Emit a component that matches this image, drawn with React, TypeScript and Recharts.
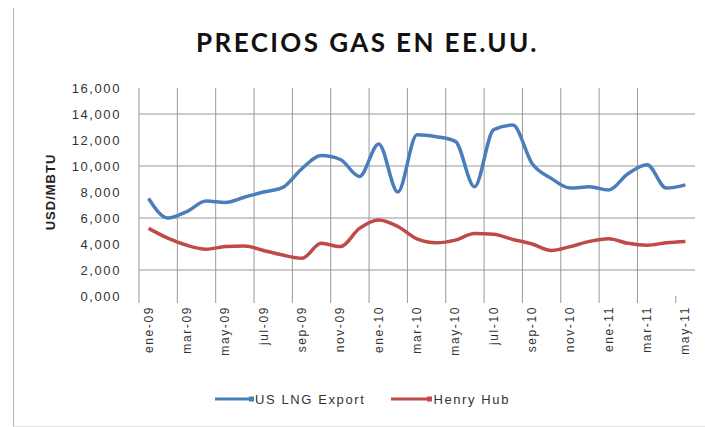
import React from 'react';
import { LineChart, Line, XAxis, YAxis, Legend, ReferenceLine } from 'recharts';

const months = [
  'ene-09', 'feb-09', 'mar-09', 'abr-09', 'may-09', 'jun-09', 'jul-09', 'ago-09', 'sep-09', 'oct-09', 'nov-09', 'dic-09',
  'ene-10', 'feb-10', 'mar-10', 'abr-10', 'may-10', 'jun-10', 'jul-10', 'ago-10', 'sep-10', 'oct-10', 'nov-10', 'dic-10',
  'ene-11', 'feb-11', 'mar-11', 'abr-11', 'may-11',
];
const usLngExport = [
  7.5, 6.0, 6.5, 7.3, 7.2, 7.6, 8.0, 8.35, 9.8, 10.8, 10.5, 9.2,
  11.7, 8.0, 12.4, 12.25, 11.9, 8.4, 12.8, 13.15, 10.2, 9.05, 8.3, 8.4,
  8.15, 9.4, 10.1, 8.3, 8.55,
];
const henryHub = [
  5.2, 4.45, 3.9, 3.6, 3.8, 3.85, 3.5, 3.15, 2.9, 4.05, 3.8, 5.2,
  5.85, 5.35, 4.4, 4.1, 4.3, 4.8, 4.75, 4.35, 4.0, 3.5, 3.8, 4.2,
  4.4, 4.05, 3.9, 4.1, 4.2,
];
const labelIdx = [0, 2, 4, 6, 8, 10, 12, 14, 16, 18, 20, 22, 24, 26, 28];
const gridX = [-0.5, 1.5, 3.5, 5.5, 7.5, 9.5, 11.5, 13.5, 15.5, 17.5, 19.5, 21.5, 23.5, 25.5];
const yTicks = [0, 2, 4, 6, 8, 10, 12, 14, 16];
const gridY = [2, 6, 10, 14];
const Y_MAX = 16;

const data = months.map((m, i) => ({ i, month: m, lng: usLngExport[i], hh: henryHub[i] }));

const W = 705;
const H = 427;
const Y_AXIS_W = 139;
const RIGHT = 10;
const PLOT_W = W - Y_AXIS_W - RIGHT;
const HALF_BAND = PLOT_W / months.length / 2;

const BLUE = '#4A7EBB';
const RED = '#BE4B48';
const GRID = '#999999';
const FONT = '"Liberation Sans", Arial, sans-serif';

const XTick = (props: any) => {
  const { x, y, payload } = props;
  const label = months[payload.value];
  const ty = y + 10;
  return (
    <g>
      <line x1={x - HALF_BAND} x2={x - HALF_BAND} y1={y} y2={y + 7} stroke={GRID} strokeWidth={1} />
      <text
        x={x}
        y={ty}
        transform={`rotate(-90 ${x} ${ty})`}
        textAnchor="end"
        dominantBaseline="central"
        fontSize={12}
        letterSpacing={1.6}
        fill="#333"
        fontFamily={FONT}
      >
        {label}
      </text>
    </g>
  );
};

const LegendContent = () => (
  <div
    style={{
      height: 20,
      display: 'flex',
      justifyContent: 'center',
      alignItems: 'center',
      paddingLeft: 30,
      fontFamily: FONT,
      fontSize: 13,
      letterSpacing: 1.6,
      color: '#333',
    }}
  >
    <svg width={40} height={10}>
      <line x1={0} x2={38} y1={5} y2={5} stroke={BLUE} strokeWidth={3} />
      <rect x={34} y={2.5} width={5} height={5} fill={BLUE} />
    </svg>
    <span style={{ marginRight: 26 }}>US LNG Export</span>
    <svg width={42} height={10}>
      <line x1={0} x2={40} y1={5} y2={5} stroke={RED} strokeWidth={3} />
      <rect x={36} y={2.5} width={5} height={5} fill={RED} />
    </svg>
    <span>Henry Hub</span>
  </div>
);

export default function App() {
  return (
    <div style={{ position: 'absolute', left: 0, top: 0, width: W, height: H, background: '#fff' }}>
      <div
        style={{
          position: 'absolute',
          left: 13,
          top: 8,
          width: W - 13,
          height: H - 9,
          borderLeft: '1.5px solid #b4b4b4',
          borderBottom: '1px solid #e4e4e4',
        }}
      />
      <div
        style={{
          position: 'absolute',
          left: 0,
          width: W,
          top: 27,
          paddingLeft: 30,
          boxSizing: 'border-box',
          textAlign: 'center',
          fontFamily: 'Lato, "Open Sans", sans-serif',
          fontWeight: 700,
          fontSize: 26,
          letterSpacing: 2.4,
          lineHeight: '30px',
          color: '#111',
        }}
      >
        PRECIOS GAS EN EE.UU.
      </div>
      <LineChart width={W} height={H} data={data} margin={{ top: 88, right: RIGHT, left: 0, bottom: 18 }}>
        <XAxis
          type="number"
          dataKey="i"
          domain={[-0.5, 28.5]}
          ticks={labelIdx}
          interval={0}
          height={93}
          axisLine={false}
          tickLine={false}
          tickSize={0}
          tickMargin={0}
          tick={<XTick />}
        />
        <YAxis
          type="number"
          domain={[0, Y_MAX]}
          ticks={yTicks}
          width={Y_AXIS_W}
          axisLine={false}
          tickLine={false}
          tickMargin={12}
          tick={{ fontSize: 13, fill: '#333', fontFamily: FONT, letterSpacing: 1.6 }}
          tickFormatter={(v: number) => v.toFixed(3).replace('.', ',')}
          label={{
            content: (p: any) => {
              const vb = p.viewBox || {};
              const cy = (vb.y || 88) + (vb.height || 208) / 2;
              return (
                <text
                  x={50}
                  y={cy}
                  transform={`rotate(-90 50 ${cy})`}
                  textAnchor="middle"
                  dominantBaseline="central"
                  fontSize={13}
                  fontWeight={700}
                  letterSpacing={1}
                  fill="#222"
                  fontFamily={FONT}
                >
                  USD/MBTU
                </text>
              );
            },
          }}
        />
        {gridX.map((v) => (
          <ReferenceLine key={'x' + v} x={v} stroke={GRID} strokeWidth={1} />
        ))}
        {gridY.map((v) => (
          <ReferenceLine key={'y' + v} y={v} stroke={GRID} strokeWidth={1} />
        ))}
        <Line type="monotone" dataKey="lng" name="US LNG Export" stroke={BLUE} strokeWidth={3.5} dot={false} isAnimationActive={false} />
        <Line type="monotone" dataKey="hh" name="Henry Hub" stroke={RED} strokeWidth={3.5} dot={false} isAnimationActive={false} />
        <Legend verticalAlign="bottom" height={20} content={<LegendContent />} />
      </LineChart>
    </div>
  );
}
